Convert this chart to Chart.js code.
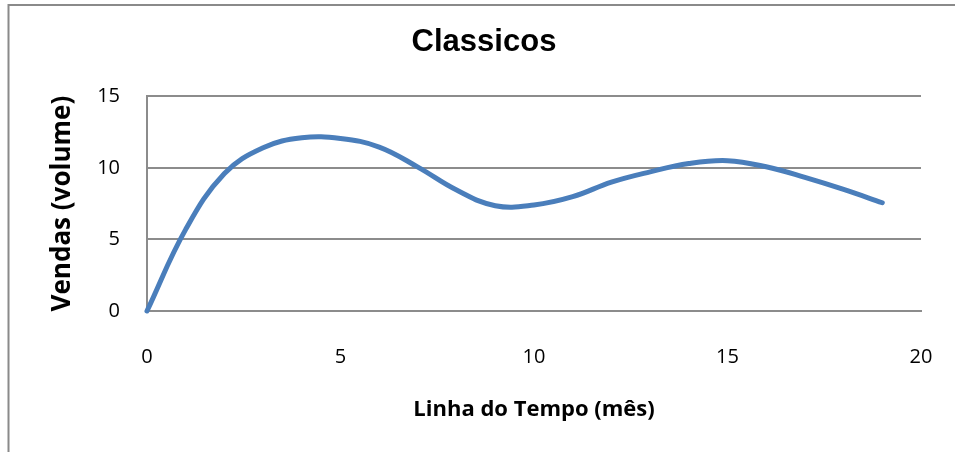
<!DOCTYPE html>
<html>
<head>
<meta charset="utf-8">
<script src="https://cdn.jsdelivr.net/npm/chart.js@4/dist/chart.umd.min.js"></script>
<style>
  html, body { margin: 0; padding: 0; background: #ffffff; }
  #wrap { width: 955px; height: 452px; position: relative; }
</style>
</head>
<body>
<div id="wrap"><canvas id="c" width="955" height="452"></canvas></div>
<script>
// Monthly sales volume for the "Classicos" line
const months = [0, 1, 2, 3, 4, 5, 6, 7, 8, 9, 10, 11, 12, 13, 14, 15, 16, 17, 18, 19];
const sales  = [0, 5.7, 9.6, 11.4, 12.1, 12.05, 11.45, 10.05, 8.45, 7.35, 7.4, 7.98, 9.0, 9.72, 10.3, 10.5, 10.07, 9.33, 8.49, 7.56];

const xTicks = [0, 5, 10, 15, 20];
const yTicks = [0, 5, 10, 15];

const chartTitle = 'Classicos';
const xTitle = 'Linha do Tempo (mês)';
const yTitle = 'Vendas (volume)';

const points = months.map((m, i) => ({ x: m, y: sales[i] }));

const GRID = '#8c8c8c';

// Outer frame of the chart object
const framePlugin = {
  id: 'frame',
  beforeDraw(chart) {
    const ctx = chart.ctx;
    ctx.save();
    ctx.fillStyle = '#ffffff';
    ctx.fillRect(0, 0, chart.width, chart.height);
    ctx.strokeStyle = '#8a8a8a';
    ctx.lineWidth = 2;
    ctx.strokeRect(8.5, 5, chart.width + 20, chart.height + 20);
    ctx.restore();
  }
};

new Chart(document.getElementById('c'), {
  type: 'line',
  data: {
    datasets: [{
      label: chartTitle,
      data: points,
      borderColor: '#4a7ebb',
      borderWidth: 5,
      borderCapStyle: 'round',
      borderJoinStyle: 'round',
      pointRadius: 0,
      pointHoverRadius: 0,
      tension: 0.4,
      fill: false,
      clip: false
    }]
  },
  options: {
    responsive: false,
    animation: false,
    events: [],
    layout: { padding: { left: 47, right: 34, top: 0, bottom: 0 } },
    plugins: {
      legend: { display: false },
      tooltip: { enabled: false },
      title: {
        display: true,
        text: chartTitle,
        color: '#000000',
        font: { family: 'Liberation Sans, Arial, sans-serif', size: 31, weight: 'bold', lineHeight: 1.2 },
        padding: { top: 24, bottom: 35 }
      }
    },
    scales: {
      x: {
        type: 'linear',
        min: 0,
        max: 20,
        afterBuildTicks(scale) { scale.ticks = xTicks.map(v => ({ value: v })); },
        afterFit(scale) {
          scale.height = 141;
          scale.paddingLeft = 0;
          scale.paddingRight = 0;
        },
        grid: { display: false, drawTicks: false },
        border: { display: true, color: GRID, width: 2 },
        ticks: {
          color: '#000000',
          padding: 34,
          maxRotation: 0,
          font: { family: 'Open Sans', size: 20 }
        },
        title: {
          display: true,
          text: xTitle,
          color: '#000000',
          font: { family: 'Open Sans', size: 22, weight: 'bold', lineHeight: 1.2 },
          padding: { top: 0, bottom: 29 }
        }
      },
      y: {
        type: 'linear',
        min: 0,
        max: 15,
        afterBuildTicks(scale) { scale.ticks = yTicks.map(v => ({ value: v })); },
        afterFit(scale) { scale.width = 100; },
        grid: { display: true, color: GRID, lineWidth: 2, drawTicks: false },
        border: { display: true, color: GRID, width: 2 },
        ticks: {
          color: '#000000',
          padding: 27,
          font: { family: 'Open Sans', size: 20 }
        },
        title: {
          display: true,
          text: yTitle,
          color: '#000000',
          font: { family: 'Open Sans', size: 26, weight: 'bold', lineHeight: 1.2 },
          padding: { top: 0, bottom: 0 }
        }
      }
    }
  },
  plugins: [framePlugin]
});
</script>
</body>
</html>
